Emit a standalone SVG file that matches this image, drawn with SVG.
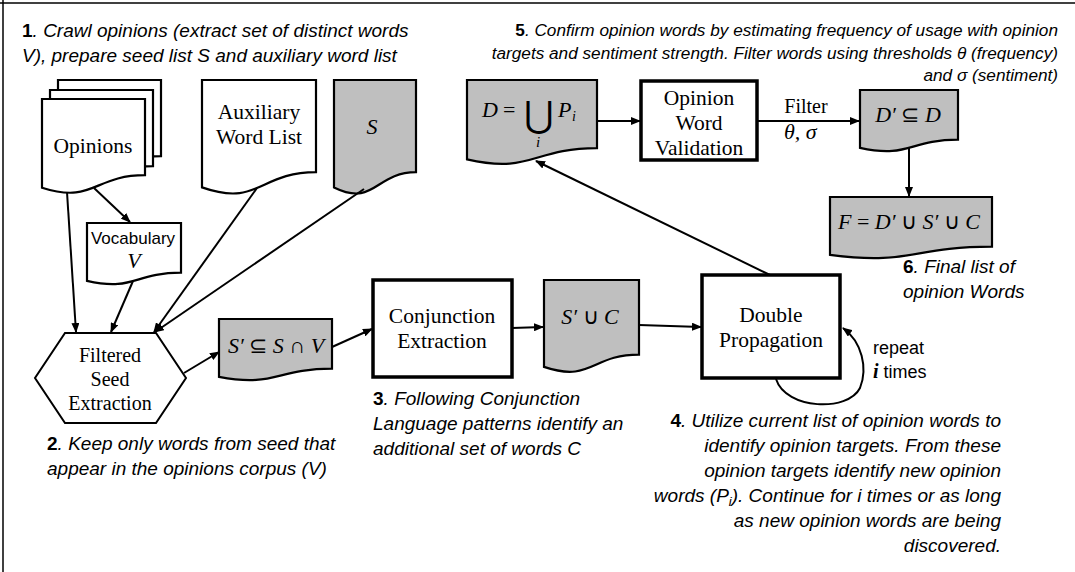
<svg xmlns="http://www.w3.org/2000/svg" width="1075" height="572" viewBox="0 0 1075 572">
<defs>
<style>
.doc{fill:#fff;stroke:#000;stroke-width:2.2}
.gray{fill:#bfbfbf}
.box{fill:#fff;stroke:#000;stroke-width:3.5}
.hex{fill:#fff;stroke:#000;stroke-width:2}
.lbl{font-family:"Liberation Serif",serif;font-size:21.5px;text-anchor:middle;fill:#000}
.math{font-family:"Liberation Serif",serif;font-style:italic;font-size:22px;fill:#000}
.up{font-style:normal}
.ann{font-family:"Liberation Sans",sans-serif;font-style:italic;font-size:19px;fill:#000}
.n5{font-size:17.2px}
.sans{font-family:"Liberation Sans",sans-serif;font-size:18px;fill:#000}
.num{font-weight:bold;font-style:normal}
.conn line,.conn path{stroke:#000;stroke-width:2;fill:none}
.frame{stroke:#000;stroke-width:1.5}
</style>
<marker id="ah" viewBox="0 0 10 8" refX="9" refY="4" markerWidth="10" markerHeight="8" markerUnits="userSpaceOnUse" orient="auto">
<path d="M0,0 L10,4 L0,8 z" fill="#000"/>
</marker>
</defs>

<g id="frame">
<line class="frame" x1="0" y1="3" x2="1075" y2="3"/>
<line class="frame" x1="3" y1="0" x2="3" y2="572"/>
</g>

<g id="note1">
<text class="ann" x="22" y="37"><tspan class="num">1</tspan>. Crawl opinions (extract set of distinct words</text>
<text class="ann" x="22" y="62">V), prepare seed list S and auxiliary word list</text>
</g>

<g id="opinions">
<path class="doc" d="M58,80 H161 V156.2 C109.5,156.2 109.5,185.2 58,168.7 Z"/>
<path class="doc" d="M50,90 H153 V166.2 C101.5,166.2 101.5,195.2 50,178.7 Z"/>
<path class="doc" d="M42,99 H145 V175.2 C93.5,175.2 93.5,204.2 42,187.7 Z"/>
<text class="lbl" x="93" y="153">Opinions</text>
</g>

<g id="auxiliary">
<path class="doc" d="M202,80 H316 V172.2 C259,172.2 259,207.3 202,187.4 Z"/>
<text class="lbl" x="259" y="119">Auxiliary</text>
<text class="lbl" x="259" y="144">Word List</text>
</g>

<g id="seed">
<path class="doc gray" d="M334,80 H416 V172.2 C375,172.2 375,207.3 334,187.4 Z"/>
<text class="math" x="372" y="134" text-anchor="middle">S</text>
</g>

<g id="vocabulary">
<path class="doc" d="M87,223 H181 V272.7 C134,272.7 134,291.6 87,280.9 Z"/>
<text class="sans" x="133" y="244" text-anchor="middle" style="font-size:17px">Vocabulary</text>
<text class="math" x="134" y="268" text-anchor="middle">V</text>
</g>

<g id="filtered">
<polygon class="hex" points="65,333 156,333 186,378 156,423 65,423 35,378"/>
<text class="lbl" x="110" y="362" style="font-size:20px">Filtered</text>
<text class="lbl" x="110" y="386" style="font-size:20px">Seed</text>
<text class="lbl" x="110" y="410" style="font-size:20px">Extraction</text>
</g>

<g id="sprime">
<path class="doc gray" d="M219,319 H332 V368.7 C275.5,368.7 275.5,387.6 219,376.9 Z"/>
<text class="math" x="276" y="353" text-anchor="middle">S′ <tspan class="up">⊆</tspan> S <tspan class="up">∩</tspan> V</text>
</g>

<g id="note2">
<text class="ann" x="47" y="450"><tspan class="num">2</tspan>. Keep only words from seed that</text>
<text class="ann" x="47" y="475">appear in the opinions corpus (V)</text>
</g>

<g id="conjunction">
<rect class="box" x="373" y="280" width="139" height="97"/>
<text class="lbl" x="442" y="323">Conjunction</text>
<text class="lbl" x="442" y="348">Extraction</text>
</g>

<g id="note3">
<text class="ann" x="373" y="405"><tspan class="num">3</tspan>. Following Conjunction</text>
<text class="ann" x="373" y="430">Language patterns identify an</text>
<text class="ann" x="373" y="455">additional set of words C</text>
</g>

<g id="sunionc">
<path class="doc gray" d="M544,280 H639 V354.6 C591.5,354.6 591.5,382.9 544,366.9 Z"/>
<text class="math" x="590" y="324" text-anchor="middle">S′ <tspan class="up">∪</tspan> C</text>
</g>

<g id="double">
<rect class="box" x="702" y="275" width="138" height="103"/>
<text class="lbl" x="771" y="322">Double</text>
<text class="lbl" x="771" y="347">Propagation</text>
<text class="sans" x="873" y="354">repeat</text>
<text x="873" y="378"><tspan style="font-family:'Liberation Serif',serif;font-style:italic;font-weight:bold;font-size:20px">i</tspan><tspan class="sans"> times</tspan></text>
</g>

<g id="note4">
<text class="ann" x="1001" y="427" text-anchor="end"><tspan class="num">4</tspan>. Utilize current list of opinion words  to</text>
<text class="ann" x="1001" y="452" text-anchor="end">identify opinion targets. From these</text>
<text class="ann" x="1001" y="477" text-anchor="end">opinion targets identify new opinion</text>
<text class="ann" x="1001" y="502" text-anchor="end">words (P<tspan font-size="13" dy="4">i</tspan><tspan dy="-4">). Continue for i times or as long</tspan></text>
<text class="ann" x="1001" y="527" text-anchor="end">as new opinion words are being</text>
<text class="ann" x="1001" y="552" text-anchor="end">discovered.</text>
</g>

<g id="dunion">
<path class="doc gray" d="M467,80 H597 V148.2 C532,148.2 532,174.1 467,159.4 Z"/>
<text class="math" x="482" y="117">D</text>
<text class="math up" x="503" y="117">=</text>
<text x="539" y="127" text-anchor="middle" style="font-family:'DejaVu Serif','DejaVu Sans',serif;font-size:36px">⋃</text>
<text class="math" x="558" y="117">P</text>
<text class="math" x="572" y="121" style="font-size:14px">i</text>
<text class="math" x="538" y="147" text-anchor="middle" style="font-size:15px">i</text>
</g>

<g id="validation">
<rect class="box" x="641" y="81" width="116" height="79"/>
<text class="lbl" x="699" y="105">Opinion</text>
<text class="lbl" x="699" y="130">Word</text>
<text class="lbl" x="699" y="155">Validation</text>
</g>

<g id="note5">
<text class="ann n5" x="1058" y="36" text-anchor="end"><tspan class="num">5</tspan>. Confirm opinion words by estimating frequency of usage with opinion</text>
<text class="ann n5" x="1058" y="59" text-anchor="end">targets and sentiment strength. Filter words using thresholds θ (frequency)</text>
<text class="ann n5" x="1058" y="81" text-anchor="end">and σ (sentiment)</text>
</g>

<g id="dprime">
<path class="doc gray" d="M860,90 H958 V139.7 C909,139.7 909,158.6 860,147.9 Z"/>
<text class="math" x="908" y="122" text-anchor="middle">D′ <tspan class="up">⊆</tspan> D</text>
</g>

<g id="final">
<path class="doc gray" d="M830,197 H992 V246.7 C911,246.7 911,265.6 830,254.9 Z"/>
<text class="math" x="909" y="229" text-anchor="middle">F <tspan class="up">=</tspan> D′ <tspan class="up">∪</tspan> S′ <tspan class="up">∪</tspan> C</text>
</g>

<g id="note6">
<text class="ann" x="903" y="273"><tspan class="num">6</tspan>. Final list of</text>
<text class="ann" x="903" y="298">opinion Words</text>
</g>

<g id="connectors" class="conn">
<line x1="67" y1="192" x2="76" y2="332" marker-end="url(#ah)"/>
<line x1="94" y1="188" x2="130" y2="222" marker-end="url(#ah)"/>
<line x1="133" y1="281" x2="111" y2="332" marker-end="url(#ah)"/>
<line x1="257" y1="188" x2="154" y2="332" marker-end="url(#ah)"/>
<line x1="364" y1="189" x2="155" y2="332" marker-end="url(#ah)"/>
<line x1="184" y1="373" x2="219" y2="352" marker-end="url(#ah)"/>
<line x1="332" y1="347" x2="372" y2="329" marker-end="url(#ah)"/>
<line x1="512" y1="328" x2="543" y2="327" marker-end="url(#ah)"/>
<line x1="639" y1="325" x2="701" y2="327" marker-end="url(#ah)"/>
<path d="M776,379 C786,410 848,412 860,388 C868,368 862,342 843,328" marker-end="url(#ah)"/>
<line x1="770" y1="275" x2="536" y2="161" marker-end="url(#ah)"/>
<line x1="597" y1="121" x2="640" y2="121" marker-end="url(#ah)"/>
<line x1="757" y1="121" x2="859" y2="121" marker-end="url(#ah)"/>
<line x1="909" y1="148" x2="909" y2="196" marker-end="url(#ah)"/>
<text class="lbl" x="806" y="113" style="font-size:20px">Filter</text>
<text class="math" x="784" y="139">θ, σ</text>
</g>
</svg>
